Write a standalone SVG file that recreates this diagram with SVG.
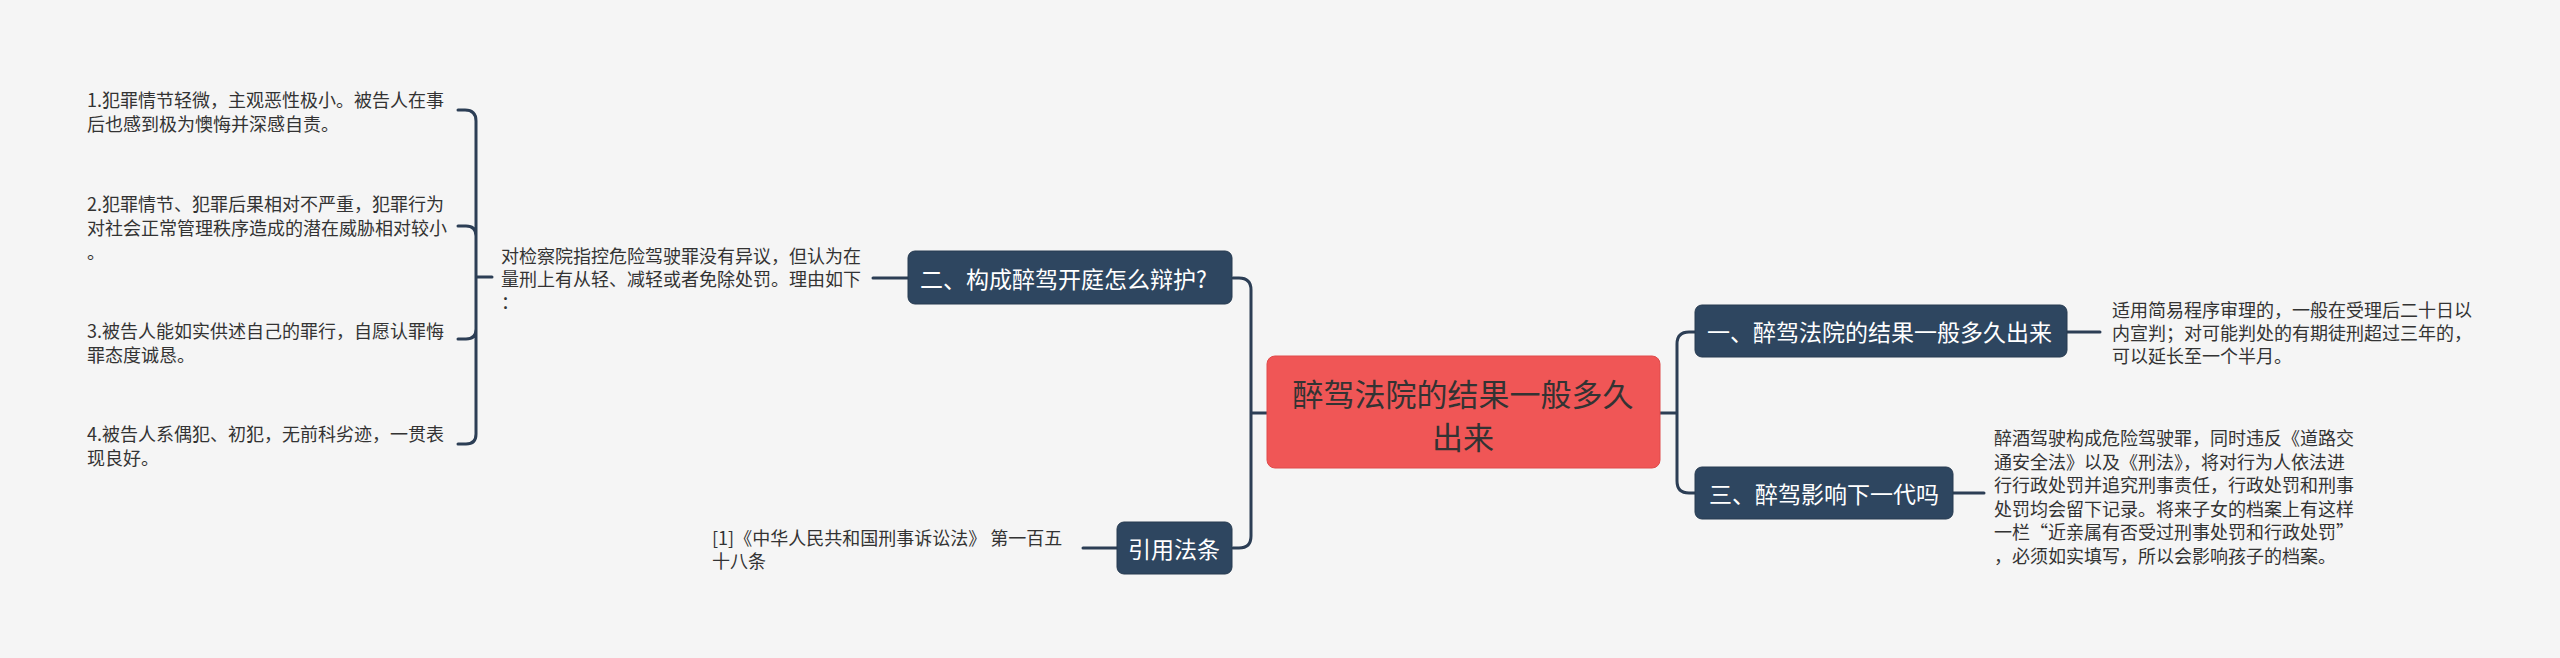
<svg xmlns="http://www.w3.org/2000/svg" width="2560" height="658" viewBox="0 0 2560 658">
<style>
.bg{fill:#f5f5f5}
.node{fill:#2e4660;stroke:#263a50;stroke-width:1}
.root{fill:#f05656;stroke:#e04a4a;stroke-width:1}
.ntext{font-family:"Noto Sans CJK SC","Noto Sans",sans-serif;font-size:23px;fill:#ffffff;dominant-baseline:central}
.rtext{font-family:"Noto Sans CJK SC","Noto Sans",sans-serif;font-size:31px;fill:#333333;dominant-baseline:central;text-anchor:middle}
.leaf{font-family:"Noto Sans CJK SC","Noto Sans",sans-serif;font-size:18px;fill:#333333;dominant-baseline:central}
.conn{fill:none;stroke:#2c3e55;stroke-width:3;stroke-linecap:round}
</style>
<rect class="bg" x="0" y="0" width="2560" height="658"/>
<g id="connectors">
<path class="conn" d="M1267,413 H1251 M1251,413 V290 Q1251,278 1239,278 H1233 M1251,413 V536 Q1251,548 1239,548 H1233"/>
<path class="conn" d="M1660,413 H1677 M1677,413 V344 Q1677,332 1689,332 H1695 M1677,413 V481 Q1677,493 1689,493 H1695"/>
<path class="conn" d="M2067,332 H2100"/>
<path class="conn" d="M1953,493 H1984"/>
<path class="conn" d="M908,278 H873"/>
<path class="conn" d="M1117,548 H1083"/>
<path class="conn" d="M492,277 H476 M476,277 V121 Q476,110 465,110 H458 M476,277 V236 Q476,226 466,226 H458 M476,277 V329 Q476,339 466,339 H458 M476,277 V434 Q476,444 466,444 H458"/>
</g>
<g id="root">
<rect class="root" x="1267" y="356" width="393" height="112" rx="8"/>
<text class="rtext" x="1463" y="392">醉驾法院的结果一般多久</text>
<text class="rtext" x="1463" y="435">出来</text>
</g>
<g id="node-1">
<rect class="node" x="1695" y="305" width="372" height="52" rx="7"/>
<text class="ntext" x="1707" y="331">一、醉驾法院的结果一般多久出来</text>
</g>
<g id="leaf-1">
<text class="leaf" x="2112" y="309">适用简易程序审理的，一般在受理后二十日以</text>
<text class="leaf" x="2112" y="332">内宣判；对可能判处的有期徒刑超过三年的，</text>
<text class="leaf" x="2112" y="355">可以延长至一个半月。</text>
</g>
<g id="node-3">
<rect class="node" x="1695" y="467" width="258" height="52" rx="7"/>
<text class="ntext" x="1709" y="493">三、醉驾影响下一代吗</text>
</g>
<g id="leaf-3">
<text class="leaf" x="1994" y="437">醉酒驾驶构成危险驾驶罪，同时违反《道路交</text>
<text class="leaf" x="1994" y="461">通安全法》以及《刑法》，将对行为人依法进</text>
<text class="leaf" x="1994" y="484">行行政处罚并追究刑事责任，行政处罚和刑事</text>
<text class="leaf" x="1994" y="508">处罚均会留下记录。将来子女的档案上有这样</text>
<text class="leaf" x="1994" y="531">一栏“近亲属有否受过刑事处罚和行政处罚”</text>
<text class="leaf" x="1994" y="555">，必须如实填写，所以会影响孩子的档案。</text>
</g>
<g id="node-2">
<rect class="node" x="908" y="251" width="324" height="53" rx="7"/>
<text class="ntext" x="920" y="278">二、构成醉驾开庭怎么辩护?</text>
</g>
<g id="leaf-2">
<text class="leaf" x="501" y="255">对检察院指控危险驾驶罪没有异议，但认为在</text>
<text class="leaf" x="501" y="278">量刑上有从轻、减轻或者免除处罚。理由如下</text>
<text class="leaf" x="501" y="301">：</text>
</g>
<g id="reason-1">
<text class="leaf" x="87" y="99">1.犯罪情节轻微，主观恶性极小。被告人在事</text>
<text class="leaf" x="87" y="123">后也感到极为懊悔并深感自责。</text>
</g>
<g id="reason-2">
<text class="leaf" x="87" y="203">2.犯罪情节、犯罪后果相对不严重，犯罪行为</text>
<text class="leaf" x="87" y="227">对社会正常管理秩序造成的潜在威胁相对较小</text>
<text class="leaf" x="87" y="251">。</text>
</g>
<g id="reason-3">
<text class="leaf" x="87" y="330">3.被告人能如实供述自己的罪行，自愿认罪悔</text>
<text class="leaf" x="87" y="354">罪态度诚恳。</text>
</g>
<g id="reason-4">
<text class="leaf" x="87" y="433">4.被告人系偶犯、初犯，无前科劣迹，一贯表</text>
<text class="leaf" x="87" y="457">现良好。</text>
</g>
<g id="node-4">
<rect class="node" x="1117" y="522" width="115" height="52" rx="7"/>
<text class="ntext" x="1128" y="548">引用法条</text>
</g>
<g id="leaf-4">
<text class="leaf" x="712" y="537">[1]《中华人民共和国刑事诉讼法》 第一百五</text>
<text class="leaf" x="712" y="560">十八条</text>
</g>
</svg>
